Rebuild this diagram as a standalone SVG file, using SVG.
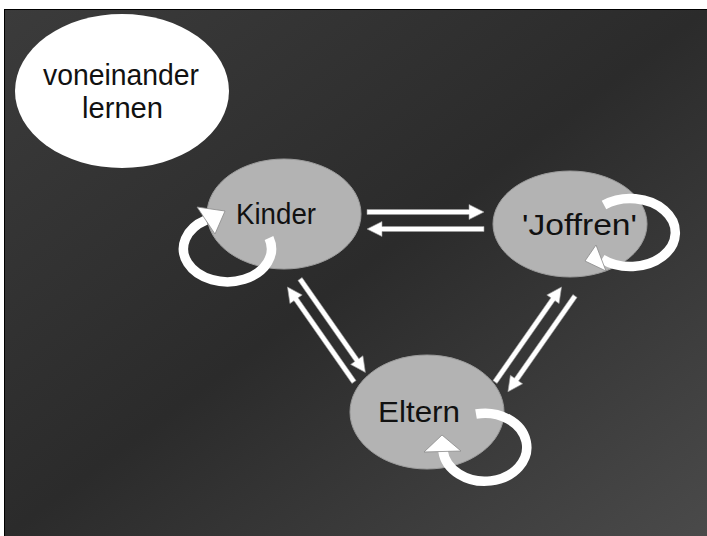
<svg xmlns="http://www.w3.org/2000/svg" width="707" height="536" viewBox="0 0 707 536">
  <defs>
    <linearGradient id="bg" x1="0" y1="0" x2="1" y2="1">
      <stop offset="0" stop-color="#3b3b3b"/>
      <stop offset="0.5" stop-color="#2b2b2b"/>
      <stop offset="1" stop-color="#4a4a4a"/>
    </linearGradient>
    <style>
      .lbl { font-family: "Liberation Sans", "DejaVu Sans", sans-serif; font-size: 29px; fill: #111; }
      .node { fill: #b3b3b3; stroke: #9c9c9c; stroke-width: 1; }
      .arrow { fill: #ffffff; stroke: #9a9a9a; stroke-width: 0.6; }
      .loop { fill: none; stroke: #ffffff; stroke-width: 9.5; }
      .head { fill: #ffffff; stroke: #8a8a8a; stroke-width: 0.8; stroke-linejoin: miter; }
    </style>
  </defs>

  <rect x="0" y="0" width="707" height="536" fill="#ffffff"/>
  <rect x="4.5" y="9.5" width="703" height="527" fill="url(#bg)" stroke="#000" stroke-width="1"/>

  <g id="node-voneinander">
    <ellipse cx="122" cy="91" rx="107" ry="77" fill="#ffffff"/>
    <text class="lbl" x="43" y="85" textLength="156" lengthAdjust="spacingAndGlyphs">voneinander</text>
    <text class="lbl" x="82" y="118" textLength="81" lengthAdjust="spacingAndGlyphs">lernen</text>
  </g>

  <g id="node-kinder">
    <ellipse class="node" cx="284" cy="214" rx="77" ry="55"/>
    <text class="lbl" x="236" y="224" textLength="80" lengthAdjust="spacingAndGlyphs">Kinder</text>
  </g>

  <g id="node-joffren">
    <ellipse class="node" cx="570" cy="224" rx="77" ry="53"/>
    <text class="lbl" x="522" y="235" textLength="115" lengthAdjust="spacingAndGlyphs">'Joffren'</text>
  </g>

  <g id="node-eltern">
    <ellipse class="node" cx="427" cy="412" rx="77" ry="57"/>
    <text class="lbl" x="378" y="422" textLength="82" lengthAdjust="spacingAndGlyphs">Eltern</text>
  </g>

  <g id="connectors">
    <!-- Kinder <-> Joffren -->
    <polygon class="arrow" points="367,209.5 469,209.5 469,204.5 484,212 469,219.5 469,214.5 367,214.5"/>
    <polygon class="arrow" points="484,226.5 382,226.5 382,221.5 367,229 382,236.5 382,231.5 484,231.5"/>
    <!-- Kinder <-> Eltern -->
    <polygon class="arrow" transform="translate(300,279) rotate(55)" points="0,-2.5 99,-2.5 99,-7.5 114,0 99,7.5 99,2.5 0,2.5"/>
    <polygon class="arrow" transform="translate(354,382) rotate(-125)" points="0,-2.5 101,-2.5 101,-7.5 116,0 101,7.5 101,2.5 0,2.5"/>
    <!-- Eltern <-> Joffren -->
    <polygon class="arrow" transform="translate(495,382) rotate(-55)" points="0,-2.5 101,-2.5 101,-7.5 116,0 101,7.5 101,2.5 0,2.5"/>
    <polygon class="arrow" transform="translate(575,296) rotate(125)" points="0,-2.5 102,-2.5 102,-7.5 117,0 102,7.5 102,2.5 0,2.5"/>
    <!-- self loops -->
    <path class="loop" d="M 269 238 A 44 33 0 1 1 206 220"/>
    <polygon class="head" points="225,211 197,207 215,234"/>
    <path class="loop" d="M 604 205 A 45 34 0 1 1 602 259"/>
    <polygon class="head" points="585,261 596,245 606,271"/>
    <path class="loop" d="M 476 414 A 42 34 0 1 1 443 451"/>
    <polygon class="head" points="442,435 424,452 461,451"/>
  </g>
</svg>
